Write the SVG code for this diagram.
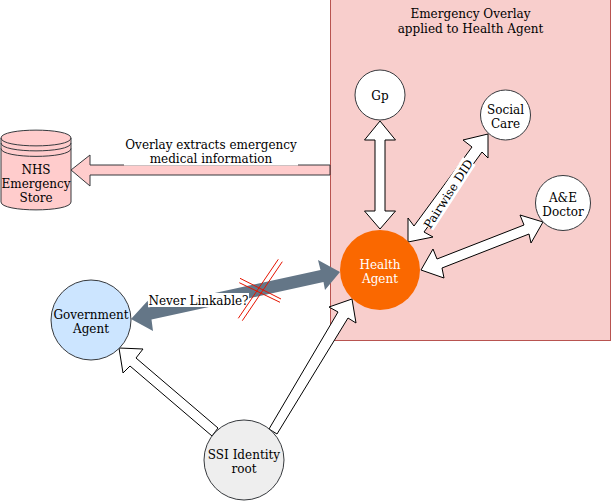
<svg xmlns="http://www.w3.org/2000/svg" width="611" height="501" viewBox="0 0 611 501">
<style>
text{font-family:"DejaVu Serif",serif;font-size:12px;fill:#000;text-anchor:middle}
.node{stroke:#36393d;stroke-width:1}
.w{fill:#fff}
.arrow{fill:#fff;stroke:#000;stroke-width:1;stroke-linejoin:miter}
.x{fill:none;stroke:#e51400;stroke-width:1}
.bg{fill:#fff;stroke:none}
</style>
<rect width="611" height="501" fill="#fff"/>
<g id="overlay">
<rect x="330.500" y="-1" width="280" height="341.500" fill="#f8cecc" stroke="#b85450"/>
<text x="470.500" y="18">Emergency Overlay</text>
<text x="470.500" y="33">applied to Health Agent</text>
</g>
<g id="connectors">
<polygon class="arrow" style="fill:#ffcccc;stroke:#36393d" points="330,165 90,165 90,155 71,170 90,186 90,175 330,175"/>
<rect class="bg" x="124" y="136" width="174" height="29.500"/>
<text x="211" y="149">Overlay extracts emergency</text>
<text x="211" y="163">medical information</text>
<polygon class="arrow" points="380,121 395.500,140 385,140 385,211 395.500,211 380,229 364.500,211 375,211 375,140 364.500,140"/>
<polygon class="arrow" points="488,134 463,140 472,147 414,226 408,218 408,242 433,237 424,232 482,152 488,158"/>
<g transform="translate(448.500 194) rotate(-57)">
<rect class="bg" x="-39" y="-8" width="78" height="15"/>
<text x="0" y="4">Pairwise DID</text>
</g>
<polygon class="arrow" points="543,222 520,215 524,225 437,259 433,249 421,270 444,278 442,268 529,234 531,243"/>
<polygon fill="#647687" points="340,272 318,260 320.500,270 148.500,307.600 147.700,300.700 131,319 153,331 151.500,319.600 323.500,282 325,290"/>
<rect class="bg" x="148" y="293" width="101" height="14"/>
<text x="198.500" y="305">Never Linkable?</text>
<g class="x">
<path d="M238.300,318.300 L278.300,259.300 M242.300,320.700 L282.300,261.700"/>
<path d="M240,278.300 L281,299 M239.300,282.700 L280,302.300"/>
</g>
<polygon class="arrow" points="212,436 130,366 123,373 119,348 143,349 136,358 218,428"/>
<polygon class="arrow" points="269,429 338,312 329,307 352,299 356,323 348,318 277,434"/>
</g>
<g id="nhs-store">
<path class="node" fill="#ffcccc" d="M1,138 C1,127.500 71,127.500 71,138 L71,202 C71,212.500 1,212.500 1,202 Z"/>
<path class="node" fill="none" d="M1,138 C1,148.500 71,148.500 71,138 M1,143 C1,153.500 71,153.500 71,143 M1,148.500 C1,159 71,159 71,148.500"/>
<text x="36" y="174">NHS</text>
<text x="36" y="188">Emergency</text>
<text x="36" y="202">Store</text>
</g>
<g id="gp">
<circle class="node w" cx="380" cy="95" r="25"/>
<text x="380" y="100">Gp</text>
</g>
<g id="social-care">
<circle class="node w" cx="505.500" cy="115" r="25"/>
<text x="505.500" y="114">Social</text>
<text x="505.500" y="128">Care</text>
</g>
<g id="ae-doctor">
<circle class="node w" cx="563" cy="203" r="27.500"/>
<text x="563" y="202">A&amp;E</text>
<text x="563" y="216">Doctor</text>
</g>
<g id="health-agent">
<circle cx="380" cy="270" r="40" fill="#fa6800"/>
<text x="380" y="269" style="fill:#fff">Health</text>
<text x="380" y="283" style="fill:#fff">Agent</text>
</g>
<g id="government-agent">
<circle class="node" cx="91" cy="320" r="40" fill="#cce5ff"/>
<text x="91" y="319">Government</text>
<text x="91" y="333">Agent</text>
</g>
<g id="ssi-root">
<circle class="node" cx="244" cy="460" r="40" fill="#eeeeee"/>
<text x="244" y="459">SSI Identity</text>
<text x="244" y="473">root</text>
</g>
</svg>
